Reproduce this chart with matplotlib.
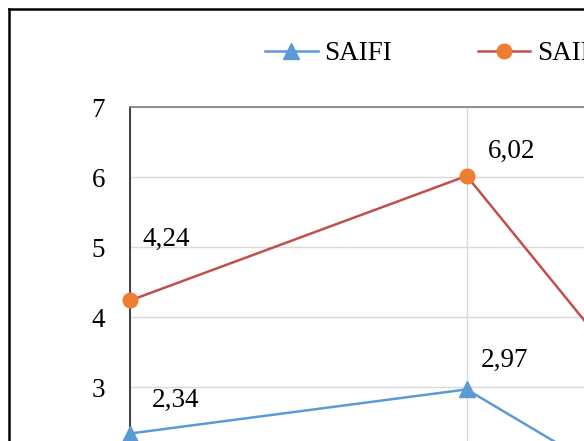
import matplotlib
matplotlib.use("Agg")
import matplotlib.pyplot as plt
from matplotlib.lines import Line2D

plt.rcParams['font.family'] = ['Liberation Serif', 'DejaVu Serif']

categories = [0, 1, 2]
saifi = [2.34, 2.97, 0.11]
saidi = [4.24, 6.02, 0.11]
saifi_labels = ["2,34", "2,97"]
saidi_labels = ["4,24", "6,02"]
yticks = [3, 4, 5, 6, 7]

W, H = 584, 441
fig = plt.figure(figsize=(W / 100, H / 100), dpi=100)

# axes geometry in pixels (plot extends beyond the visible crop)
x0 = 130.0
ytop = 107.3
px_per_unit = 70.0
px_per_cat = 336.7
ymin, ymax = 0, 7
ax_h = (ymax - ymin) * px_per_unit
ax_w = (len(categories) - 1) * px_per_cat
ax = fig.add_axes([x0 / W, (H - ytop - ax_h) / H, ax_w / W, ax_h / H])

blue = '#5B9BD5'
red = '#C0504D'
orange = '#ED7D31'
fs = 19.5

l1, = ax.plot(categories, saifi, color=blue, lw=1.8, marker='^', ms=11,
              mfc=blue, mec=blue, label='SAIFI', clip_on=False, zorder=3)
l2, = ax.plot(categories, saidi, color=red, lw=1.8, marker='o', ms=10.5,
              mfc=orange, mec=orange, label='SAIDI', clip_on=False, zorder=3)

ax.set_xlim(0, len(categories) - 1)
ax.set_ylim(ymin, ymax)
ax.set_yticks(yticks)
ax.set_xticks(categories)
ax.tick_params(axis='y', length=0, pad=18, labelsize=fs)
ax.tick_params(axis='x', length=0, labelbottom=False)
ax.grid(True, color='#D9D9D9', lw=1.0)
ax.set_axisbelow(True)
for s in ['right', 'bottom']:
    ax.spines[s].set_visible(False)
ax.spines['left'].set_color('#404040')
ax.spines['left'].set_linewidth(1.4)
ax.spines['top'].set_color('#808080')
ax.spines['top'].set_linewidth(1.2)

# data labels (offsets in pixels)
saidi_off = [(35.8, 54.5), (45.0, 17.6)]
saifi_off = [(45.8, 26.8), (37.5, 22.7)]
for i, (lab, off) in enumerate(zip(saidi_labels, saidi_off)):
    ax.annotate(lab, (categories[i], saidi[i]), xytext=off, textcoords='offset pixels',
                ha='center', va='baseline', fontsize=fs, color='black')
for i, (lab, off) in enumerate(zip(saifi_labels, saifi_off)):
    ax.annotate(lab, (categories[i], saifi[i]), xytext=off, textcoords='offset pixels',
                ha='center', va='baseline', fontsize=fs, color='black')

# legend
fig.legend(handles=[l1, l2], loc='center left', bbox_to_anchor=(265 / W, 1 - 54 / H),
           ncol=2, frameon=False, fontsize=fs, borderpad=0, borderaxespad=0,
           handlelength=1.95, handletextpad=0.25, columnspacing=3.15)

# chart area border
fig.add_artist(Line2D([9 / W, 9 / W], [1 - 9 / H, -0.1], transform=fig.transFigure,
                      color='black', lw=1.8))
fig.add_artist(Line2D([9 / W, 1.1], [1 - 9 / H, 1 - 9 / H], transform=fig.transFigure,
                      color='black', lw=1.8))

fig.savefig('out.png', dpi=100)
